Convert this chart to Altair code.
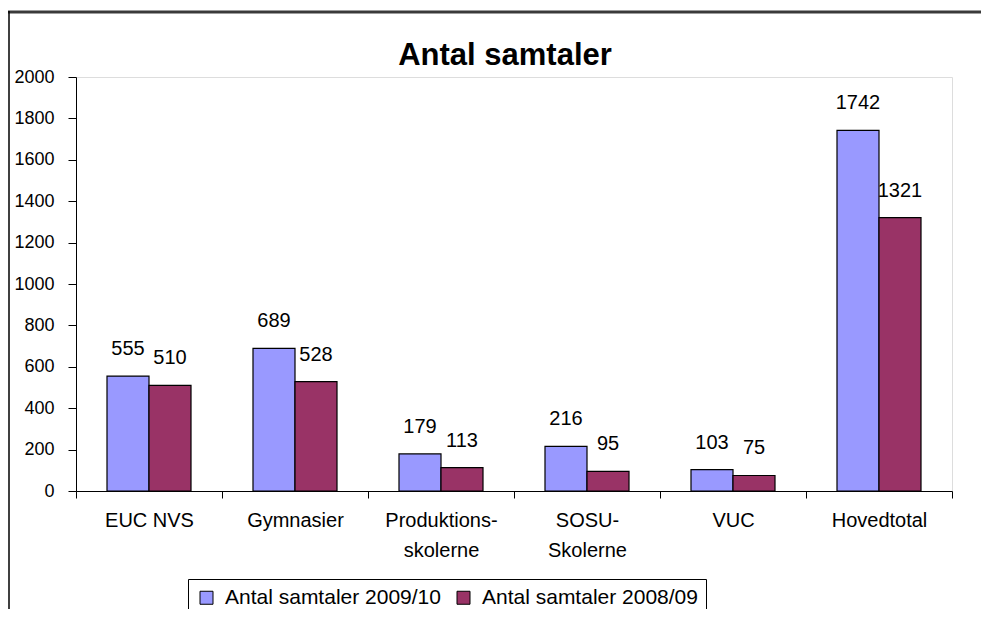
import altair as alt
import pandas as pd

categories = ["EUC NVS", "Gymnasier", "Produktions-\nskolerne", "SOSU-\nSkolerne", "VUC", "Hovedtotal"]
series_names = ["Antal samtaler 2009/10", "Antal samtaler 2008/09"]
values_2009_10 = [555, 689, 179, 216, 103, 1742]
values_2008_09 = [510, 528, 113, 95, 75, 1321]
colors = ["#9999FF", "#993366"]
y_ticks = [0, 200, 400, 600, 800, 1000, 1200, 1400, 1600, 1800, 2000]

rows = []
for c, v1, v2 in zip(categories, values_2009_10, values_2008_09):
    rows.append({"kategori": c, "serie": series_names[0], "antal": v1})
    rows.append({"kategori": c, "serie": series_names[1], "antal": v2})
df = pd.DataFrame(rows)

FONT = "Liberation Sans"

x_enc = alt.X("kategori:N", sort=categories, title=None,
              scale=alt.Scale(paddingInner=0, paddingOuter=0),
              axis=alt.Axis(labelAngle=0, labelFontSize=20, labelFont=FONT, labelColor="black",
                            labelExpr="split(datum.label, '\\n')", labelLineHeight=30,
                            labelPadding=12, tickSize=7, tickBand="extent",
                            domainColor="black", tickColor="black", labelBaseline="top",
                            zindex=2))
xoff_enc = alt.XOffset("serie:N", sort=series_names,
                       scale=alt.Scale(paddingInner=0, paddingOuter=0.738))
y_enc = alt.Y("antal:Q", title=None,
              scale=alt.Scale(domain=[0, 2000], nice=False),
              axis=alt.Axis(values=y_ticks, format="d", grid=False, labelFontSize=18,
                            labelFont=FONT, labelColor="black", tickSize=8, labelPadding=14,
                            domainColor="black", tickColor="black", zindex=2))
color_enc = alt.Color("serie:N", sort=series_names,
                      scale=alt.Scale(domain=series_names, range=colors),
                      legend=alt.Legend(orient="none", legendX=112, legendY=502,
                                        direction="horizontal", columns=2, title=None,
                                        strokeColor="black", padding=8, fillColor="white",
                                        symbolType="square", symbolSize=169,
                                        symbolStrokeColor="black", symbolStrokeWidth=1,
                                        labelFontSize=21, labelFont=FONT, labelColor="black",
                                        labelLimit=400, columnPadding=12, labelOffset=8))

bars = alt.Chart(df).mark_bar(stroke="black", strokeWidth=1.2).encode(
    x=x_enc, xOffset=xoff_enc, y=y_enc, color=color_enc
)

labels = alt.Chart(df).mark_text(fontSize=20, font=FONT, color="black",
                                 baseline="middle", dy=-27).encode(
    x=alt.X("kategori:N", sort=categories),
    xOffset=alt.XOffset("serie:N", sort=series_names),
    y="antal:Q",
    text="antal:Q",
)

frame_data = alt.Data(values=[{"k": 1}])
top_frame = alt.Chart(frame_data).mark_rule(color="#3a3a3a", strokeWidth=3).encode(
    x=alt.value(-68), x2=alt.value(905), y=alt.value(-65)
)
left_frame = alt.Chart(frame_data).mark_rule(color="black", strokeWidth=1.5).encode(
    x=alt.value(-67), y=alt.value(-66), y2=alt.value(540)
)

chart = alt.layer(top_frame, left_frame, bars, labels).properties(
    width=876,
    height=414,
    title=alt.TitleParams("Antal samtaler", fontSize=31, font=FONT, fontWeight="bold",
                          color="black", anchor="middle", dx=-9, dy=62, offset=0),
    autosize=alt.AutoSizeParams(type="none"),
    padding={"left": 68, "top": 69, "right": 29, "bottom": 118},
).configure_view(
    stroke="#808080", strokeWidth=2
).configure(background="white")

chart.save("out.html", embed_options={"renderer": "svg", "actions": False})
